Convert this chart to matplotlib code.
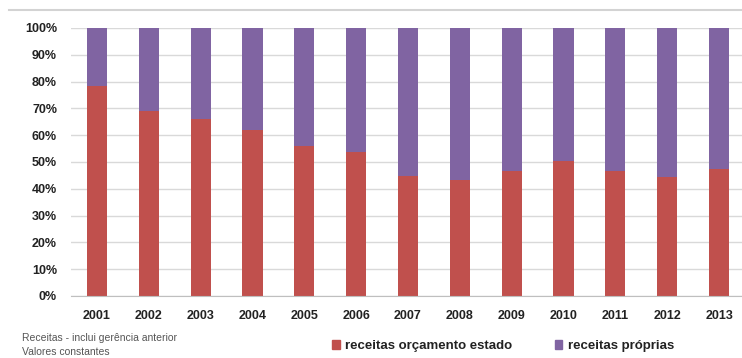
import matplotlib
matplotlib.use("Agg")
import matplotlib.pyplot as plt
from matplotlib.lines import Line2D
from matplotlib.patches import Patch
from matplotlib.ticker import PercentFormatter

plt.rcParams['font.family'] = ['Liberation Sans', 'DejaVu Sans']

years = ['2001', '2002', '2003', '2004', '2005', '2006', '2007',
         '2008', '2009', '2010', '2011', '2012', '2013']
# share of revenue from the state budget (%)
orcamento_estado = [78.4, 69.2, 66.0, 61.8, 56.0, 53.6, 44.8,
                    43.4, 46.5, 50.4, 46.5, 44.3, 47.4]
# share of own revenue (%)
receitas_proprias = [100 - v for v in orcamento_estado]

series_names = ['receitas orçamento estado', 'receitas próprias']
red = '#C0504D'
purple = '#8064A2'

W, H = 742, 358
fig = plt.figure(figsize=(W / 100, H / 100), dpi=100)
ax = fig.add_axes([71 / W, (H - 296) / H, (745 - 71) / W, 268 / H])

x = list(range(len(years)))
ax.bar(x, orcamento_estado, width=0.39, color=red, zorder=3)
ax.bar(x, receitas_proprias, width=0.39, bottom=orcamento_estado,
       color=purple, zorder=3)

ax.set_xlim(-0.5, len(years) - 0.5)
ax.set_ylim(0, 100)
ax.set_yticks(range(0, 101, 10))
ax.yaxis.set_major_formatter(PercentFormatter(decimals=0))
ax.set_xticks(x)
ax.set_xticklabels(years)
ax.grid(axis='y', color='#D9D9D9', lw=1.0, zorder=0)
ax.tick_params(length=0, labelsize=9, colors='#222222')
ax.tick_params(axis='y', pad=10)
ax.tick_params(axis='x', pad=10)
for lab in ax.get_xticklabels() + ax.get_yticklabels():
    lab.set_fontweight('bold')
for side in ('top', 'right', 'left'):
    ax.spines[side].set_visible(False)
ax.spines['bottom'].set_color('#BFBFBF')
ax.spines['bottom'].set_zorder(4)

# thin frame line across the top of the chart area
fig.add_artist(Line2D([9 / W, 1.0], [1 - 9.5 / H] * 2, color='#D3D3D3', lw=1.5))

handles = [Patch(color=red), Patch(color=purple)]
fig.legend(handles, series_names, loc='center',
           bbox_to_anchor=(503 / W, 1 - 346 / H), ncol=2, frameon=False,
           handlelength=0.6, handleheight=0.6, handletextpad=0.4,
           columnspacing=3.2, prop={'size': 9.5, 'weight': 'bold'},
           labelcolor='#222222')

fig.text(22 / W, 1 - 338 / H, 'Receitas - inclui gerência anterior',
         fontsize=7.5, color='#555555', va='center', ha='left')
fig.text(22 / W, 1 - 352 / H, 'Valores constantes',
         fontsize=7.5, color='#555555', va='center', ha='left')

fig.savefig('out.png', dpi=100)
